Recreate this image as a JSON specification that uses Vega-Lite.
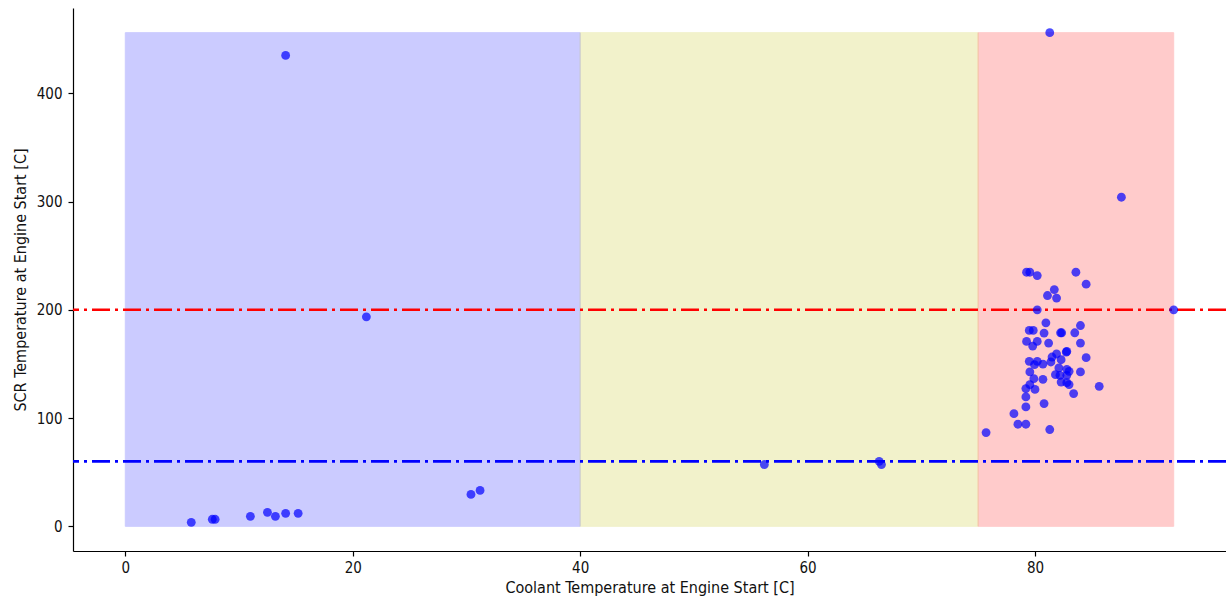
{
  "$schema": "https://vega.github.io/schema/vega-lite/v6.json",
  "width": 1153,
  "height": 543,
  "autosize": {"type": "none"},
  "padding": {"left": 73, "top": 8, "right": 0, "bottom": 48},
  "background": "white",
  "config": {
    "view": {"stroke": null},
    "font": "DejaVu Sans Condensed, DejaVu Sans",
    "axis": {
      "grid": false,
      "domainColor": "black",
      "domainWidth": 1.2,
      "tickColor": "black",
      "tickWidth": 1.2,
      "tickSize": 5,
      "labelFontSize": 15,
      "labelColor": "#111",
      "titleFontSize": 16,
      "titleFontWeight": "normal",
      "titleColor": "#111",
      "labelFont": "DejaVu Sans Condensed, DejaVu Sans",
      "titleFont": "DejaVu Sans Condensed, DejaVu Sans"
    }
  },
  "datasets": {
    "spans": [
      {"x0": 0, "x1": 40, "y0": 0, "y1": 456, "zone": "cold"},
      {"x0": 40, "x1": 75, "y0": 0, "y1": 456, "zone": "warm"},
      {"x0": 75, "x1": 92.2, "y0": 0, "y1": 456, "zone": "hot"}
    ],
    "lines": [
      {"level": 200, "kind": "upper"},
      {"level": 60, "kind": "lower"}
    ],
    "points": [
      {"coolant": 5.8, "scr": 3.7},
      {"coolant": 7.65, "scr": 6.5},
      {"coolant": 7.9, "scr": 6.5},
      {"coolant": 11.0, "scr": 9.2},
      {"coolant": 12.5, "scr": 12.9},
      {"coolant": 13.2, "scr": 9.2},
      {"coolant": 14.1, "scr": 12},
      {"coolant": 15.2, "scr": 12},
      {"coolant": 14.1, "scr": 435},
      {"coolant": 21.2, "scr": 193.5},
      {"coolant": 30.4, "scr": 29.5},
      {"coolant": 31.2, "scr": 33.2},
      {"coolant": 56.2, "scr": 57.1},
      {"coolant": 66.3, "scr": 60},
      {"coolant": 66.5, "scr": 57.1},
      {"coolant": 81.3, "scr": 456},
      {"coolant": 87.6, "scr": 304},
      {"coolant": 92.2, "scr": 200},
      {"coolant": 79.26, "scr": 234.7},
      {"coolant": 79.55, "scr": 234.7},
      {"coolant": 80.2, "scr": 231.6},
      {"coolant": 83.6, "scr": 234.7},
      {"coolant": 84.5, "scr": 223.7},
      {"coolant": 81.7, "scr": 218.7},
      {"coolant": 81.1, "scr": 213.2},
      {"coolant": 81.9, "scr": 210.8},
      {"coolant": 80.2, "scr": 200},
      {"coolant": 80.96, "scr": 188},
      {"coolant": 84.0, "scr": 185.5},
      {"coolant": 79.5, "scr": 181},
      {"coolant": 79.85, "scr": 181},
      {"coolant": 80.8, "scr": 178.5},
      {"coolant": 82.25, "scr": 178.8},
      {"coolant": 82.35, "scr": 178.8},
      {"coolant": 83.5, "scr": 178.8},
      {"coolant": 79.26, "scr": 170.8},
      {"coolant": 80.2, "scr": 170.8},
      {"coolant": 79.8, "scr": 166.5},
      {"coolant": 81.2, "scr": 169.3},
      {"coolant": 84.0, "scr": 169.3},
      {"coolant": 82.8, "scr": 161.6},
      {"coolant": 82.75, "scr": 161.0},
      {"coolant": 81.9, "scr": 159.2},
      {"coolant": 81.5, "scr": 156.4},
      {"coolant": 82.3, "scr": 153.9},
      {"coolant": 84.5, "scr": 155.8},
      {"coolant": 79.5, "scr": 152.4},
      {"coolant": 80.2, "scr": 152.4},
      {"coolant": 80.7, "scr": 149.9},
      {"coolant": 81.4, "scr": 151.8},
      {"coolant": 79.96, "scr": 149.3},
      {"coolant": 82.1, "scr": 146.3},
      {"coolant": 82.8, "scr": 145},
      {"coolant": 79.55, "scr": 142.6},
      {"coolant": 83.0, "scr": 143.2},
      {"coolant": 84.0, "scr": 142.6},
      {"coolant": 81.8, "scr": 140.1},
      {"coolant": 82.2, "scr": 139.5},
      {"coolant": 82.8, "scr": 139.5},
      {"coolant": 79.9, "scr": 136.4},
      {"coolant": 80.7, "scr": 135.8},
      {"coolant": 82.3, "scr": 133.3},
      {"coolant": 82.8, "scr": 132.7},
      {"coolant": 79.55, "scr": 130.9},
      {"coolant": 83.0, "scr": 130.9},
      {"coolant": 85.65, "scr": 129.3},
      {"coolant": 79.2, "scr": 127.2},
      {"coolant": 80.0, "scr": 126.5},
      {"coolant": 83.4, "scr": 122.6},
      {"coolant": 79.2, "scr": 119.5},
      {"coolant": 80.8, "scr": 113.4},
      {"coolant": 79.2, "scr": 110.3},
      {"coolant": 78.15, "scr": 104.1},
      {"coolant": 78.5, "scr": 94.3},
      {"coolant": 79.2, "scr": 94.3},
      {"coolant": 81.3, "scr": 89.4},
      {"coolant": 75.7, "scr": 86.6}
    ]
  },
  "layer": [
    {
      "data": {"name": "spans"},
      "mark": {"type": "rect", "opacity": 0.2, "strokeWidth": 1},
      "encoding": {
        "x": {"field": "x0", "type": "quantitative",
              "scale": {"domain": [-4.6, 96.8], "nice": false, "zero": false},
              "axis": {"values": [0, 20, 40, 60, 80], "title": "Coolant Temperature at Engine Start [C]", "titlePadding": 4, "labelPadding": 4}},
        "x2": {"field": "x1"},
        "y": {"field": "y0", "type": "quantitative",
              "scale": {"domain": [-22.8, 478.8], "nice": false, "zero": false},
              "axis": {"values": [0, 100, 200, 300, 400], "title": "SCR Temperature at Engine Start [C]", "titlePadding": 8, "labelPadding": 6}},
        "y2": {"field": "y1"},
        "fill": {"field": "zone", "type": "nominal",
                 "scale": {"domain": ["cold", "warm", "hot"], "range": ["#0000ff", "#bfbf00", "#ff0000"]},
                 "legend": null},
        "stroke": {"field": "zone", "type": "nominal",
                   "scale": {"domain": ["cold", "warm", "hot"], "range": ["#0000ff", "#bfbf00", "#ff0000"]},
                   "legend": null}
      }
    },
    {
      "data": {"name": "lines"},
      "mark": {"type": "rule", "strokeWidth": 2.6, "strokeDash": [18, 5, 3, 5]},
      "encoding": {
        "y": {"field": "level", "type": "quantitative"},
        "color": {"field": "kind", "type": "nominal",
                  "scale": {"domain": ["upper", "lower"], "range": ["#ff0000", "#0000ff"]},
                  "legend": null}
      }
    },
    {
      "data": {"name": "points"},
      "mark": {"type": "circle", "size": 78, "opacity": 0.7, "color": "#0000ff"},
      "encoding": {
        "x": {"field": "coolant", "type": "quantitative"},
        "y": {"field": "scr", "type": "quantitative"}
      }
    }
  ],
  "resolve": {"scale": {"color": "independent", "fill": "independent", "stroke": "independent"}}
}
